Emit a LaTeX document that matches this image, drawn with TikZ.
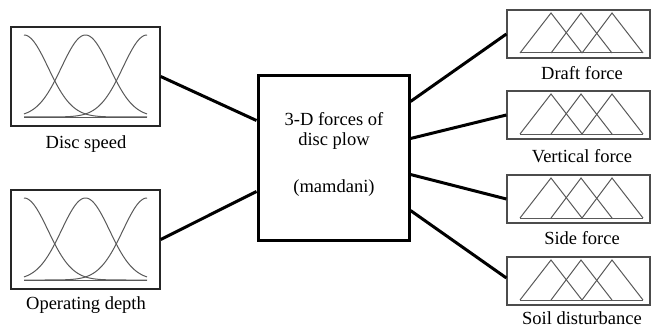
\documentclass[tikz,border=0pt]{standalone}
\usepackage{fontspec}
\setmainfont{Liberation Serif}
\usetikzlibrary{calc}
\begin{document}
\begin{tikzpicture}[x=1pt,y=-1pt,
  inbox/.style={draw=black!85, line width=1.4pt, inner sep=0pt,
    minimum width=149pt, minimum height=99pt},
  outbox/.style={draw=black!70, line width=1.2pt, inner sep=0pt,
    minimum width=143pt, minimum height=48pt},
  fisbox/.style={draw=black, line width=3pt, inner sep=0pt,
    minimum width=151pt, minimum height=164pt},
  link/.style={line width=3pt, black},
  mf/.style={draw=black!65, line width=1pt},
  lbl/.style={font=\fontsize{18.5}{20}\selectfont, inner sep=0pt, anchor=base}]
\useasboundingbox (0,0) rectangle (651,329);

% input variables with Gaussian membership functions
\node[inbox] (ds) at (85.5,76.5) {};
\node[inbox] (od) at (85.5,239.5) {};
\foreach \dy in {0,163}{
  \begin{scope}[shift={(0,\dy)}]
    \draw[mf] (24,117) -- (147,117);
    \foreach \c in {24,85.5,147}
      \draw[mf] plot[domain=24:147, samples=90, smooth]
        (\x, {117-82*exp(-((\x-\c)^2)/1152)});
  \end{scope}
}
\node[lbl] (dsl) at (86,148) {Disc speed};
\node[lbl] (odl) at (86,309) {Operating depth};

% fuzzy inference system
\node[fisbox] (fis) at (333.5,158) {};
\node[lbl] (t1) at (334,125) {3-D forces of};
\node[lbl] (t2) at (334,146) {disc plow};
\node[lbl] (t3) at (334,192) {(mamdani)};

% output variables with triangular membership functions
\foreach \n/\cy in {dr/34,vf/115,sf/199,sd/281}{
  \node[outbox] (\n) at (578.5,\cy) {};
  \begin{scope}[shift={(0,\cy-24)}]
    \draw[mf] (520,43) -- (643,43);
    \draw[mf] (520,43) -- (551,3) -- (582,43);
    \draw[mf] (551,43) -- (581,3) -- (612,43);
    \draw[mf] (582,43) -- (612,3) -- (643,43);
  \end{scope}
}
\node[lbl] (drl) at (582,80) {Draft force};
\node[lbl] (vfl) at (582,162) {Vertical force};
\node[lbl] (sfl) at (582,244) {Side force};
\node[lbl] (sdl) at (582,324) {Soil disturbance};

% connection points on the inference box
\coordinate (fl1) at ($(fis.north west)+(0,46)$);
\coordinate (fl2) at ($(fis.north west)+(0,117)$);
\coordinate (fr1) at ($(fis.north east)+(0,27)$);
\coordinate (fr2) at ($(fis.north east)+(0,64)$);
\coordinate (fr3) at ($(fis.north east)+(0,100)$);
\coordinate (fr4) at ($(fis.north east)+(0,136)$);

\draw[link] (ds.east) -- (fl1);
\draw[link] (od.east) -- (fl2);
\draw[link] (fr1) -- (dr.west);
\draw[link] (fr2) -- (vf.west);
\draw[link] (fr3) -- (sf.west);
\draw[link] (fr4) -- ($(sd.west)+(0,-3)$);
\end{tikzpicture}
\end{document}
